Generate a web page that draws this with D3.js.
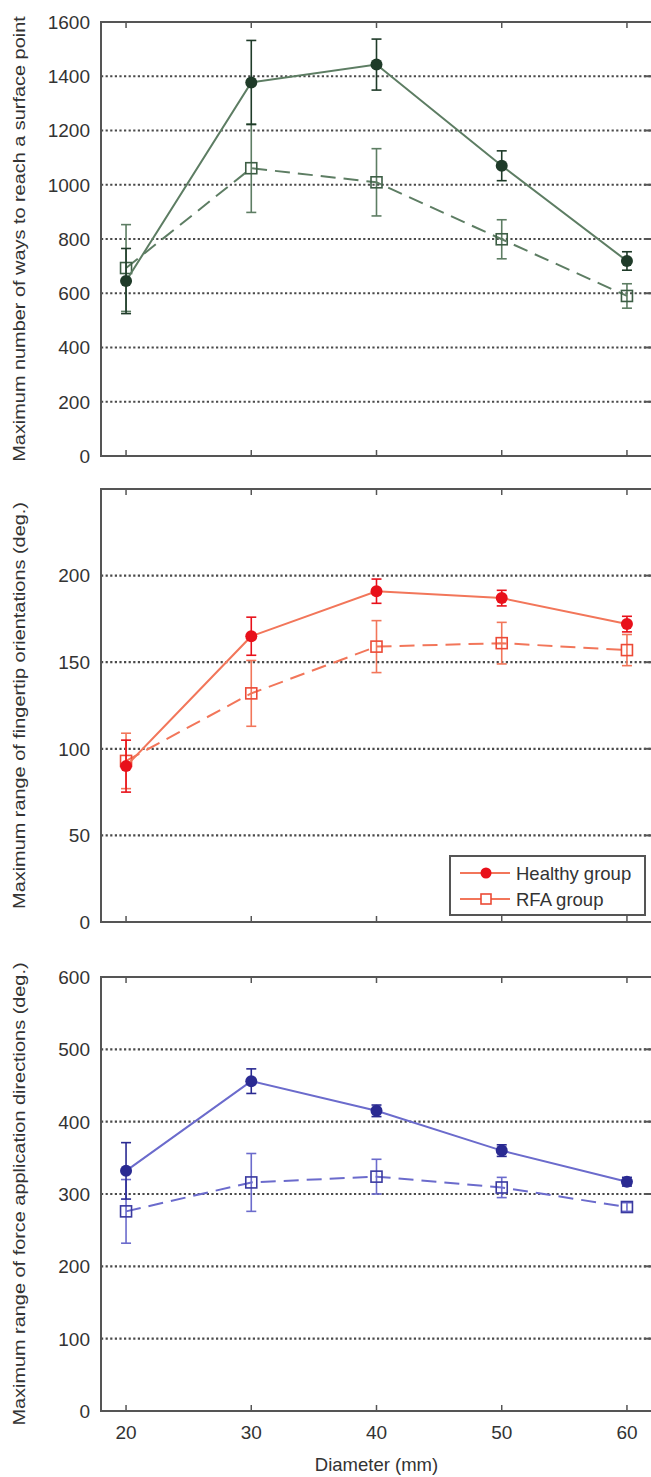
<!DOCTYPE html>
<html>
<head>
<meta charset="utf-8">
<title>Diameter panels</title>
<style>
  body { margin: 0; background: #fff; }
  text { font-family: "Liberation Sans", Arial, sans-serif; fill: #333; }
</style>
</head>
<body>
<svg width="651" height="1477"></svg>
<script src="https://d3js.org/d3.v7.min.js"></script>
<script>

// data
var diameters = [20, 30, 40, 50, 60];

var waysHealthy    = [645, 1377, 1443, 1070, 719];
var waysHealthyErr = [120, 155, 94, 55, 34];
var waysRFA        = [693, 1061, 1009, 799, 590];
var waysRFAErr     = [160, 163, 124, 72, 45];
var waysTicks      = [0, 200, 400, 600, 800, 1000, 1200, 1400, 1600];

var orientHealthy    = [90, 165, 191, 187, 172];
var orientHealthyErr = [15, 11, 7, 4.5, 4.5];
var orientRFA        = [93, 132, 159, 161, 157];
var orientRFAErr     = [16, 19, 15, 12, 9];
var orientTicks      = [0, 50, 100, 150, 200];

var forceHealthy    = [332, 456, 415, 360, 317];
var forceHealthyErr = [39, 17, 8, 8, 6];
var forceRFA        = [276, 316, 324, 309, 282];
var forceRFAErr     = [44, 40, 24, 14, 6];
var forceTicks      = [0, 100, 200, 300, 400, 500, 600];

var legendNames = ["Healthy group", "RFA group"];

var panels = [
    {top: 22, bottom: 456, max: 1600, ticks: waysTicks,
     label: "Maximum number of ways to reach a surface point",
     h: waysHealthy, he: waysHealthyErr, r: waysRFA, re: waysRFAErr,
     marker: "#1f3b29", line: "#5d7d63", open: "#3d5e45", legend: false},
    {top: 489, bottom: 922, max: 250, ticks: orientTicks,
     label: "Maximum range of fingertip orientations (deg.)",
     h: orientHealthy, he: orientHealthyErr, r: orientRFA, re: orientRFAErr,
     marker: "#e8101a", line: "#f2765a", open: "#ec4a36", legend: true},
    {top: 977, bottom: 1411, max: 600, ticks: forceTicks,
     label: "Maximum range of force application directions (deg.)",
     h: forceHealthy, he: forceHealthyErr, r: forceRFA, re: forceRFAErr,
     marker: "#2a2a92", line: "#6b6bcc", open: "#3a3aa0", legend: false}
];

var svg = d3.select("svg");
var left = 101, right = 652;
var axisColor = "#555";

var x = d3.scaleLinear().domain([18, 62]).range([left, right]);

panels.forEach(function (p, pi) {
    var y = d3.scaleLinear().domain([0, p.max]).range([p.bottom, p.top]);
    var g = svg.append("g");

    // dotted grid
    g.selectAll(".grid")
        .data(p.ticks.filter(function (t) { return t > 0; }))
        .enter().append("line")
        .attr("x1", left).attr("x2", right)
        .attr("y1", function (d) { return y(d); })
        .attr("y2", function (d) { return y(d); })
        .attr("stroke", "#4a4a4a")
        .attr("stroke-width", 2.2)
        .attr("stroke-dasharray", "2.2,2.4");

    // frame
    g.append("path")
        .attr("d", "M" + right + "," + p.top + "H" + left + "V" + p.bottom + "H" + right)
        .attr("fill", "none").attr("stroke", axisColor).attr("stroke-width", 2);

    // x ticks top & bottom, inward
    diameters.forEach(function (d) {
        g.append("line").attr("x1", x(d)).attr("x2", x(d))
            .attr("y1", p.bottom).attr("y2", p.bottom - 6)
            .attr("stroke", axisColor).attr("stroke-width", 1.5);
        g.append("line").attr("x1", x(d)).attr("x2", x(d))
            .attr("y1", p.top).attr("y2", p.top + 6)
            .attr("stroke", axisColor).attr("stroke-width", 1.5);
    });

    // right side inward ticks
    p.ticks.forEach(function (t) {
        g.append("line").attr("x1", right).attr("x2", right - 8)
            .attr("y1", y(t)).attr("y2", y(t))
            .attr("stroke", axisColor).attr("stroke-width", 2);
    });

    // y tick labels
    g.selectAll(".ylab")
        .data(p.ticks)
        .enter().append("text")
        .attr("x", 90)
        .attr("y", function (d) { return y(d); })
        .attr("dy", "0.36em")
        .attr("text-anchor", "end")
        .attr("font-size", "19px")
        .text(function (d) { return d; });

    // y axis title (stretched along its length like the source)
    g.append("text")
        .attr("transform", "translate(25," + ((p.top + p.bottom) / 2) + ") rotate(-90) scale(1.17,1)")
        .attr("text-anchor", "middle")
        .attr("font-size", "17px")
        .text(p.label);

    var lineGen = d3.line()
        .x(function (d, i) { return x(diameters[i]); })
        .y(function (d) { return y(d); });

    function series(vals, errs, dashed, filled) {
        var s = g.append("g");
        var col = filled ? p.marker : p.open;
        s.append("path")
            .datum(vals)
            .attr("d", lineGen)
            .attr("fill", "none")
            .attr("stroke", p.line)
            .attr("stroke-width", 2)
            .attr("stroke-dasharray", dashed ? "15,8" : null);

        vals.forEach(function (v, i) {
            var cx = x(diameters[i]);
            var lo = y(v - errs[i]), hi = y(v + errs[i]);
            s.append("line").attr("x1", cx).attr("x2", cx).attr("y1", lo).attr("y2", hi)
                .attr("stroke", filled ? p.marker : p.line).attr("stroke-width", 1.6);
            [lo, hi].forEach(function (yy) {
                s.append("line").attr("x1", cx - 5).attr("x2", cx + 5).attr("y1", yy).attr("y2", yy)
                    .attr("stroke", filled ? p.marker : p.line).attr("stroke-width", 1.6);
            });
            if (filled) {
                s.append("circle").attr("cx", cx).attr("cy", y(v)).attr("r", 6)
                    .attr("fill", col);
            } else {
                s.append("rect").attr("x", cx - 5.5).attr("y", y(v) - 5.5)
                    .attr("width", 11).attr("height", 11)
                    .attr("fill", "none").attr("stroke", col)
                    .attr("stroke-width", 1.6);
            }
        });
    }

    series(p.r, p.re, true, false);
    series(p.h, p.he, false, true);

    if (p.legend) {
        var lg = g.append("g").attr("transform", "translate(450,856)");
        lg.append("rect").attr("width", 195).attr("height", 59)
            .attr("fill", "#fff").attr("stroke", axisColor).attr("stroke-width", 2);
        legendNames.forEach(function (name, i) {
            var ly = 17 + i * 26;
            lg.append("line").attr("x1", 10).attr("x2", 60).attr("y1", ly).attr("y2", ly)
                .attr("stroke", p.line).attr("stroke-width", 2);
            if (i === 0) {
                lg.append("circle").attr("cx", 36).attr("cy", ly).attr("r", 5.5).attr("fill", p.marker);
            } else {
                lg.append("rect").attr("x", 31).attr("y", ly - 5).attr("width", 10).attr("height", 10)
                    .attr("fill", "#fff").attr("stroke", p.open).attr("stroke-width", 1.6);
            }
            lg.append("text").attr("x", 66).attr("y", ly).attr("dy", "0.36em")
                .attr("font-size", "18.5px").text(name);
        });
    }

    // x tick labels and title for the last panel
    if (pi === panels.length - 1) {
        g.selectAll(".xlab")
            .data(diameters)
            .enter().append("text")
            .attr("x", function (d) { return x(d); })
            .attr("y", 1432).attr("dy", "0.36em")
            .attr("text-anchor", "middle")
            .attr("font-size", "19px")
            .text(function (d) { return d; });
        g.append("text")
            .attr("x", x(40)).attr("y", 1464).attr("dy", "0.36em")
            .attr("text-anchor", "middle")
            .attr("font-size", "18.5px")
            .text("Diameter (mm)");
    }
});

</script>
</body>
</html>
